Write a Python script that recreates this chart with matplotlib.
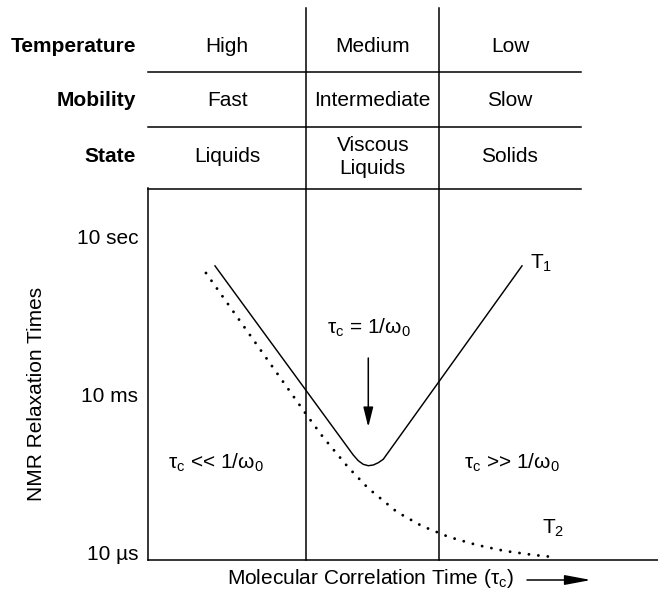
import numpy as np
import matplotlib
matplotlib.use('Agg')
import matplotlib.pyplot as plt

plt.rcParams['font.family'] = ['Liberation Sans', 'DejaVu Sans']
plt.rcParams['font.size'] = 15

# x values: log10(tau_c * omega_0), y values: log10(T / seconds)
t1_x = [-2.381, -0.294, -0.218, -0.143, -0.067, 0.008, 0.084, 0.159, 2.253]
t1_y = [0.45, -3.152, -3.261, -3.330, -3.356, -3.343, -3.299, -3.234, 0.45]

t2_x = [-2.517, -1.008, -0.751, -0.374, -0.072, 0.366, 0.743, 1.151, 1.574, 1.996, 2.434, 2.721]
t2_y = [0.314, -2.371, -2.810, -3.381, -3.781, -4.238, -4.505, -4.714, -4.867, -4.981, -5.057, -5.095]

boundaries = [-1.0, 1.0]          # region borders, log10(tau_c * omega_0)
table_right = 3.143
ytick_vals = [10, 1e-2, 1e-5]
ytick_labels = ['10 sec', '10 ms', '10 \u00b5s']

row_names = ['Temperature', 'Mobility', 'State']
temperature = ['High', 'Medium', 'Low']
mobility = ['Fast', 'Intermediate', 'Slow']
state = ['Liquids', 'Viscous\nLiquids', 'Solids']

W, H = 658, 594
fig = plt.figure(figsize=(W / 100, H / 100), dpi=100)
ax_l, ax_r, ax_t, ax_b = 148, 658, 188, 560
ax = fig.add_axes([ax_l / W, 1 - ax_b / H, (ax_r - ax_l) / W, (ax_b - ax_t) / H])

def yfrac(py):
    # pixel row (from top) -> axes fraction
    return (ax_b - py) / (ax_b - ax_t)

ax.set_xscale('log')
ax.set_yscale('log')
ax.set_xlim(10 ** -3.392, 10 ** 4.306)
ax.set_ylim(10 ** -5.152, 10 ** 1.933)

ax.plot(10 ** np.array(t1_x), 10 ** np.array(t1_y), color='k', lw=1.05,
        solid_joinstyle='round')
ax.plot(10 ** np.array(t2_x), 10 ** np.array(t2_y), color='k', lw=2.1,
        linestyle=(0, (0.01, 3.25)), dash_capstyle='round')

for spine in ['top', 'right']:
    ax.spines[spine].set_visible(False)
for spine in ['left', 'bottom']:
    ax.spines[spine].set_linewidth(1.1)

ax.set_xticks([])
ax.set_xticks([], minor=True)
ax.set_yticks(ytick_vals, labels=ytick_labels)
ax.set_yticks([1e-2], minor=True)
ax.tick_params(axis='y', which='major', length=0, pad=7)
ax.tick_params(axis='y', which='minor', length=8, width=1.1, direction='in')

# region borders run up through the header table
for b in boundaries:
    ax.axvline(10 ** b, ymin=0, ymax=yfrac(8), color='k', lw=1.1, clip_on=False)

# header table rules
xt = ax.get_xaxis_transform()
for py in [72, 127, 189]:
    ax.plot([10 ** -3.392, 10 ** table_right], [yfrac(py)] * 2, color='k', lw=1.1,
            transform=xt, clip_on=False)

edges = [-3.392] + boundaries + [table_right]
col_centers = [10 ** ((edges[i] + edges[i + 1]) / 2) for i in range(3)]
row_py = [47, 101, 157]
for name, py, cells in zip(row_names, row_py, [temperature, mobility, state]):
    fig.text(136 / W, 1 - py / H, name, ha='right', va='center', fontweight='bold')
    for xc, cell in zip(col_centers, cells):
        ax.text(xc, yfrac(py), cell, transform=xt, ha='center', va='center',
                linespacing=1.3)

# annotations
ax.text(10 ** -0.057, 10 ** -0.733, '\u03c4$_\\mathregular{c}$ = 1/\u03c9$_\\mathregular{0}$',
        ha='center', va='center')
ax.annotate('', xy=(10 ** -0.067, 10 ** -2.619), xytext=(10 ** -0.067, 10 ** -1.305),
            arrowprops=dict(arrowstyle='-|>,head_length=0.6,head_width=0.15',
                            color='k', lw=1.1, mutation_scale=20, shrinkA=0, shrinkB=0))
ax.text(10 ** -2.366, 10 ** -3.305, '\u03c4$_\\mathregular{c}$ << 1/\u03c9$_\\mathregular{0}$',
        ha='center', va='center')
ax.text(10 ** 2.102, 10 ** -3.305, '\u03c4$_\\mathregular{c}$ >> 1/\u03c9$_\\mathregular{0}$',
        ha='center', va='center')
ax.text(10 ** 2.374, 10 ** 0.505, 'T$_\\mathregular{1}$', ha='left', va='center')
ax.text(10 ** 2.555, 10 ** -4.543, 'T$_\\mathregular{2}$', ha='left', va='center')

fig.text(37 / W, 1 - 394 / H, 'NMR Relaxation Times', rotation=90, ha='center', va='center')
fig.text(371 / W, 1 - 579 / H, 'Molecular Correlation Time (\u03c4$_\\mathregular{c}$)',
         ha='center', va='center')
fig.add_artist(matplotlib.patches.FancyArrowPatch(
    (527 / W, 1 - 580 / H), (591 / W, 1 - 580 / H), transform=fig.transFigure,
    arrowstyle='-|>,head_length=0.8,head_width=0.15', mutation_scale=20,
    color='k', lw=1.1, shrinkA=0, shrinkB=0))

fig.savefig('out.png', dpi=100)
